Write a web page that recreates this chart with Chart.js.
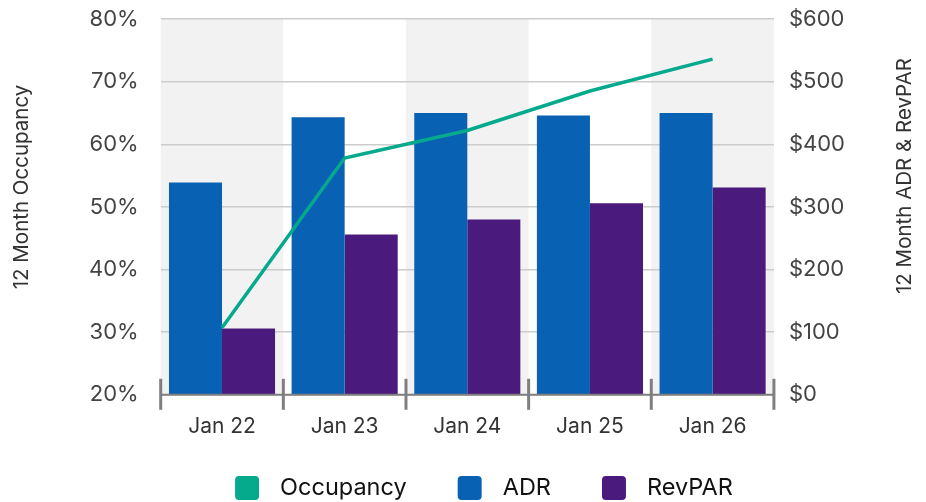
<!DOCTYPE html>
<html>
<head>
<meta charset="utf-8">
<script src="https://cdn.jsdelivr.net/npm/chart.js@4.4.1/dist/chart.umd.min.js"></script>
<style>
    html, body { margin: 0; padding: 0; background: #fff; }
</style>
</head>
<body>
<canvas id="occChart" width="926" height="502"></canvas>
<script>
const labels = ['Jan 22', 'Jan 23', 'Jan 24', 'Jan 25', 'Jan 26'];
const occupancy = [30.7, 57.8, 62.2, 68.5, 73.6];
const adr = [339, 443, 450, 446, 450];
const revpar = [106, 256, 280, 306, 331];

const leftTitle = '12 Month Occupancy';
const rightTitle = '12 Month ADR & RevPAR';
const FONT = 'Inter, "Noto Sans", sans-serif';

// shaded columns, x axis with tall ticks, axis titles and legend
const decorPlugin = {
    id: 'decor',
    beforeDraw(chart) {
        const { ctx, chartArea, scales: { x } } = chart;
        const half = (x.getPixelForValue(1) - x.getPixelForValue(0)) / 2;
        ctx.save();
        ctx.fillStyle = '#f2f2f2';
        labels.forEach((l, i) => {
            if (i % 2) return;
            const c = x.getPixelForValue(i);
            ctx.fillRect(c - half, chartArea.top, half * 2, chartArea.bottom - chartArea.top);
        });
        ctx.restore();
    },
    afterDatasetsDraw(chart) {
        const { ctx, chartArea, scales: { x } } = chart;
        const half = (x.getPixelForValue(1) - x.getPixelForValue(0)) / 2;
        const y = chartArea.bottom;
        ctx.save();
        ctx.strokeStyle = '#7f7f7f';
        ctx.lineWidth = 2;
        ctx.beginPath();
        ctx.moveTo(chartArea.left, y);
        ctx.lineTo(chartArea.right, y);
        ctx.stroke();
        ctx.lineWidth = 3;
        for (let i = 0; i <= labels.length; i++) {
            const px = x.getPixelForValue(0) - half + i * half * 2;
            ctx.beginPath();
            ctx.moveTo(px, y - 16);
            ctx.lineTo(px, y + 15);
            ctx.stroke();
        }
        ctx.restore();
    },
    afterDraw(chart) {
        const { ctx, chartArea } = chart;
        ctx.save();
        // axis titles, both read bottom to top
        ctx.fillStyle = '#333';
        ctx.font = '20.5px ' + FONT;
        ctx.textAlign = 'center';
        ctx.textBaseline = 'middle';
        ctx.translate(22, chartArea.top + 168);
        ctx.rotate(-Math.PI / 2);
        ctx.fillText(leftTitle, 0, 0);
        ctx.restore();

        ctx.save();
        ctx.fillStyle = '#333';
        ctx.font = '20.5px ' + FONT;
        ctx.textAlign = 'center';
        ctx.textBaseline = 'middle';
        ctx.translate(905, chartArea.top + 157);
        ctx.rotate(-Math.PI / 2);
        ctx.fillText(rightTitle, 0, 0);
        ctx.restore();

        // legend
        ctx.save();
        ctx.font = '23.5px ' + FONT;
        ctx.textBaseline = 'middle';
        const box = 24, gap = 21, space = 51;
        const items = chart.data.datasets.map(d => ({ text: d.label, color: d.backgroundColor, w: ctx.measureText(d.label).width }));
        let total = 0;
        items.forEach((it, i) => { total += box + gap + it.w + (i ? space : 0); });
        let px = (chart.width - total) / 2 + 21;
        const cy = 488;
        items.forEach(it => {
            ctx.fillStyle = it.color;
            ctx.beginPath();
            ctx.roundRect(px, cy - box / 2, box, box, 4);
            ctx.fill();
            ctx.fillStyle = '#111';
            ctx.fillText(it.text, px + box + gap, cy);
            px += box + gap + it.w + space;
        });
        ctx.restore();
    }
};

const noEdgePadding = s => { s.paddingTop = 0; s.paddingBottom = 0; };

const chart = new Chart(document.getElementById('occChart'), {
    type: 'bar',
    data: {
        labels: labels,
        datasets: [{
            type: 'line',
            label: 'Occupancy',
            data: occupancy,
            yAxisID: 'y',
            borderColor: '#05a98b',
            backgroundColor: '#05a98b',
            borderWidth: 3.5,
            pointRadius: 0,
            tension: 0,
            order: 0
        }, {
            label: 'ADR',
            data: adr,
            yAxisID: 'y1',
            backgroundColor: '#0961b3',
            borderWidth: 0,
            categoryPercentage: 0.865,
            barPercentage: 1,
            order: 1
        }, {
            label: 'RevPAR',
            data: revpar,
            yAxisID: 'y1',
            backgroundColor: '#4a1a7d',
            borderWidth: 0,
            categoryPercentage: 0.865,
            barPercentage: 1,
            order: 2
        }]
    },
    options: {
        responsive: false,
        devicePixelRatio: 1,
        animation: false,
        font: { family: FONT },
        layout: { padding: { left: 67, right: 66, top: 19, bottom: 58 } },
        plugins: {
            tooltip: { enabled: false },
            legend: { display: false }
        },
        scales: {
            x: {
                grid: { display: true, drawOnChartArea: false, drawTicks: true, tickLength: 14, color: 'transparent' },
                border: { display: false },
                ticks: { color: '#333', font: { family: FONT, size: 21 }, padding: 5 }
            },
            y: {
                position: 'left',
                min: 20,
                max: 80,
                afterFit: noEdgePadding,
                ticks: { stepSize: 10, color: '#444', padding: 22, font: { family: FONT, size: 22 }, callback: v => v + '%' },
                grid: { color: '#cccccc', lineWidth: 1.5, drawTicks: false },
                border: { display: false }
            },
            y1: {
                position: 'right',
                min: 0,
                max: 600,
                afterFit: noEdgePadding,
                ticks: { stepSize: 100, color: '#444', padding: 15, font: { family: FONT, size: 22 }, callback: v => '$' + v },
                grid: { drawOnChartArea: false, drawTicks: false },
                border: { display: false }
            }
        }
    },
    plugins: [decorPlugin]
});
</script>
</body>
</html>
